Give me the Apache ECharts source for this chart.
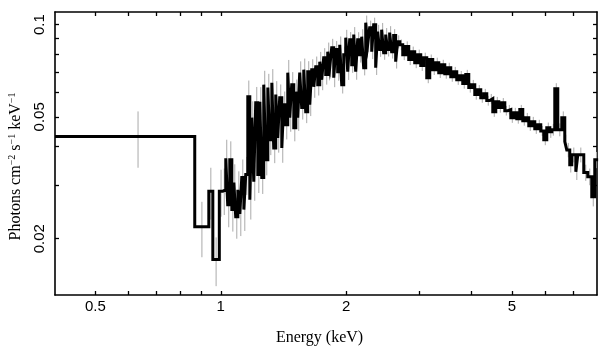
<!DOCTYPE html>
<html><head><meta charset="utf-8">
<style>html,body{margin:0;padding:0;background:#fff}#c{width:609px;height:357px}</style>
<script src="https://cdn.jsdelivr.net/npm/echarts@6/dist/echarts.min.js"></script>
</head><body><div id="c"></div>
<script>
// Bin edges (keV)
const binEdges = [0.40, 0.866, 0.936, 0.957, 0.992, 1.011, 1.028, 1.039, 1.051, 1.063, 1.075, 1.086, 1.099, 1.111, 1.123, 1.136, 1.148, 1.161, 1.174, 1.187, 1.200, 1.213, 1.227, 1.241, 1.254, 1.268, 1.282, 1.297, 1.311, 1.326, 1.340, 1.355, 1.370, 1.385, 1.401, 1.416, 1.432, 1.448, 1.464, 1.480, 1.497, 1.514, 1.530, 1.547, 1.564, 1.582, 1.599, 1.617, 1.635, 1.653, 1.672, 1.690, 1.709, 1.728, 1.747, 1.766, 1.786, 1.806, 1.826, 1.846, 1.867, 1.887, 1.908, 1.930, 1.951, 1.973, 1.995, 2.017, 2.039, 2.062, 2.085, 2.108, 2.131, 2.155, 2.179, 2.203, 2.228, 2.252, 2.277, 2.303, 2.328, 2.354, 2.380, 2.406, 2.433, 2.460, 2.488, 2.515, 2.543, 2.571, 2.600, 2.629, 2.658, 2.690, 2.734, 2.780, 2.826, 2.873, 2.921, 2.970, 3.020, 3.070, 3.122, 3.174, 3.227, 3.281, 3.336, 3.392, 3.449, 3.506, 3.565, 3.625, 3.685, 3.746, 3.809, 3.873, 3.938, 4.004, 4.071, 4.139, 4.208, 4.279, 4.350, 4.422, 4.497, 4.572, 4.649, 4.727, 4.806, 4.886, 4.968, 5.051, 5.135, 5.221, 5.308, 5.397, 5.487, 5.579, 5.672, 5.767, 5.863, 5.961, 6.061, 6.162, 6.231, 6.335, 6.441, 6.585, 6.695, 6.769, 6.882, 6.959, 7.116, 7.195, 7.436, 7.602, 7.772, 7.902, 8.05];

// Flux per bin (photons cm^-2 s^-1 keV^-1)
const flux = [
  0.0431, 0.0219, 0.0286, 0.0171, 0.0286, 0.0289,
  0.0366, 0.0258, 0.0362, 0.0249, 0.0305, 0.0236, 0.0289, 0.0241, 0.0317, 0.0249,
  0.0324, 0.0582, 0.0268, 0.0497, 0.0307, 0.0556, 0.0324, 0.0560, 0.0317, 0.0637,
  0.0362, 0.0623, 0.0421, 0.0646, 0.0396, 0.0591, 0.0427, 0.0577, 0.0396, 0.0548,
  0.0471, 0.0697, 0.0497, 0.0637, 0.0461, 0.0604, 0.0497, 0.0697, 0.0536, 0.0713,
  0.0520, 0.0702, 0.0548, 0.0713, 0.0627, 0.0729, 0.0637, 0.0757, 0.0661, 0.0780,
  0.0687, 0.0816, 0.0724, 0.0841, 0.0671, 0.0829, 0.0702, 0.0860, 0.0637, 0.0798,
  0.0907, 0.0702, 0.0893, 0.0740, 0.0928, 0.0702, 0.0893, 0.0798, 0.0914, 0.0724,
  0.1015, 0.0860, 0.0978, 0.0816, 0.1000, 0.0724, 0.0949, 0.0829, 0.0963, 0.0810,
  0.0928, 0.0829, 0.0942, 0.0816, 0.0921, 0.0757, 0.0880,
  0.0860, 0.0798, 0.0848, 0.0769, 0.0816, 0.0751, 0.0798, 0.0735, 0.0780, 0.0671,
  0.0769, 0.0713, 0.0751, 0.0697, 0.0740, 0.0692, 0.0724, 0.0676, 0.0702, 0.0661,
  0.0681, 0.0642, 0.0687, 0.0623, 0.0637, 0.0591, 0.0613, 0.0577, 0.0595, 0.0565,
  0.0573, 0.0520, 0.0560, 0.0536, 0.0556, 0.0524, 0.0528, 0.0497, 0.0516, 0.0493,
  0.0528, 0.0486, 0.0497, 0.0468, 0.0482, 0.0457, 0.0471, 0.0450, 0.0421, 0.0461,
  0.0447, 0.0454, 0.0618, 0.0454, 0.0497, 0.0415, 0.0390, 0.0349, 0.0376, 0.0331,
  0.0376, 0.0329, 0.0319, 0.0274, 0.0362
];

// 1-sigma error per bin
const fluxErr = [
  0.0090, 0.0045, 0.0055, 0.0031, 0.0050, 0.0050,
  0.0055, 0.0040, 0.0054, 0.0038, 0.0045, 0.0036, 0.0043, 0.0037, 0.0046, 0.0037,
  0.0046, 0.0075, 0.0037, 0.0065, 0.0041, 0.0070, 0.0042, 0.0065, 0.0037, 0.0070,
  0.0040, 0.0068, 0.0046, 0.0070, 0.0043, 0.0063, 0.0045, 0.0061, 0.0042, 0.0057,
  0.0049, 0.0070, 0.0050, 0.0063, 0.0045, 0.0058, 0.0047, 0.0062, 0.0046, 0.0062,
  0.0043, 0.0058, 0.0045, 0.0058, 0.0050, 0.0058, 0.0050, 0.0058, 0.0050, 0.0058,
  0.0050, 0.0058, 0.0050, 0.0058, 0.0046, 0.0055, 0.0046, 0.0055, 0.0041, 0.0050,
  0.0055, 0.0042, 0.0053, 0.0044, 0.0054, 0.0041, 0.0052, 0.0046, 0.0052, 0.0041,
  0.0056, 0.0047, 0.0053, 0.0044, 0.0054, 0.0039, 0.0050, 0.0044, 0.0050, 0.0042,
  0.0047, 0.0042, 0.0047, 0.0041, 0.0046, 0.0038, 0.0043,
  0.0035, 0.0032, 0.0034, 0.0031, 0.0032, 0.0030, 0.0031, 0.0029, 0.0030, 0.0027,
  0.0030, 0.0028, 0.0029, 0.0027, 0.0028, 0.0026, 0.0027, 0.0025, 0.0026, 0.0025,
  0.0025, 0.0024, 0.0025, 0.0023, 0.0023, 0.0022, 0.0022, 0.0021, 0.0022, 0.0021,
  0.0021, 0.0020, 0.0021, 0.0020, 0.0020, 0.0019, 0.0019, 0.0019, 0.0019, 0.0018,
  0.0019, 0.0018, 0.0018, 0.0018, 0.0018, 0.0017, 0.0018, 0.0017, 0.0017, 0.0018,
  0.0020, 0.0020, 0.0026, 0.0022, 0.0024, 0.0022, 0.0021, 0.0020, 0.0021, 0.0020,
  0.0021, 0.0020, 0.0020, 0.0019, 0.0022
];

const xTickValues = [0.5, 0.6, 0.7, 0.8, 0.9, 1, 2, 3, 4, 5, 6, 7];
const xLabelValues = [0.5, 1, 2, 5];
const yTickValues = [0.02, 0.03, 0.04, 0.05, 0.06, 0.07, 0.08, 0.09, 0.1];
const yLabelValues = [0.02, 0.05, 0.1];
const xRange = [0.4, 8];
const yRange = [0.0131, 0.11];

const stepPts = [];
for (let i = 0; i < flux.length; i++) {
  stepPts.push([binEdges[i], flux[i]]);
  stepPts.push([binEdges[i + 1], flux[i]]);
}
const errData = flux.map((f, i) => [(binEdges[i] + binEdges[i + 1]) / 2, f - fluxErr[i], f + fluxErr[i]]);

const lineStyleAxis = { color: '#000', width: 1.6 };
const tickStyle = { color: '#000', width: 1.3 };
const labelFont = { color: '#000', fontFamily: 'Liberation Sans', fontSize: 15 };

function xAx(pos, withLabels) {
  return {
    type: 'log', logBase: 10, min: xRange[0], max: xRange[1], position: pos,
    axisLine: { show: true, onZero: false, lineStyle: lineStyleAxis },
    axisTick: { show: true, inside: true, length: 4, customValues: xTickValues, lineStyle: tickStyle },
    minorTick: { show: false }, splitLine: { show: false },
    axisLabel: withLabels ? Object.assign({ show: true, customValues: xLabelValues, margin: 4, formatter: v => String(+v.toPrecision(6)) }, labelFont) : { show: false },
    name: withLabels ? 'Energy (keV)' : '',
    nameLocation: 'middle', nameGap: 35,
    nameTextStyle: { fontFamily: 'Liberation Serif', fontSize: 16, color: '#000', padding: [0, 13, 0, 0] }
  };
}
function yAx(pos, withLabels) {
  return {
    type: 'log', logBase: 10, min: yRange[0], max: yRange[1], position: pos,
    axisLine: { show: true, onZero: false, lineStyle: lineStyleAxis },
    axisTick: { show: true, inside: true, length: 4, customValues: yTickValues, lineStyle: tickStyle },
    minorTick: { show: false }, splitLine: { show: false },
    axisLabel: withLabels ? Object.assign({ show: true, customValues: yLabelValues, rotate: 90, margin: 8, formatter: v => String(+v.toPrecision(6)) }, labelFont) : { show: false },
    name: withLabels ? '{t|Photons cm}{s|−2}{t| s}{s|−1}{t| keV}{s|−1}' : '',
    nameLocation: 'middle', nameGap: 28,
    nameTextStyle: {
      padding: [0, 26, 0, 0],
      rich: {
        t: { fontFamily: 'Liberation Serif', fontSize: 16, color: '#000', lineHeight: 18 },
        s: { fontFamily: 'Liberation Serif', fontSize: 10, color: '#000', lineHeight: 10, verticalAlign: 'top' }
      }
    }
  };
}

const chart = echarts.init(document.getElementById('c'), null, { renderer: 'canvas' });
chart.setOption({
  animation: false,
  backgroundColor: '#fff',
  grid: { left: 55, right: 12, top: 12, bottom: 62, outerBoundsMode: 'none' },
  xAxis: [xAx('bottom', true), xAx('top', false)],
  yAxis: [yAx('left', true), yAx('right', false)],
  series: [
    {
      type: 'custom', xAxisIndex: 0, yAxisIndex: 0, clip: true, z: 1,
      data: errData,
      encode: { x: 0, y: [1, 2] },
      renderItem: function (params, api) {
        const x = api.value(0);
        const p1 = api.coord([x, api.value(1)]);
        const p2 = api.coord([x, api.value(2)]);
        return { type: 'line', shape: { x1: p1[0], y1: p1[1], x2: p2[0], y2: p2[1] }, style: { stroke: '#aaaaaa', lineWidth: 1 } };
      }
    },
    {
      type: 'line', xAxisIndex: 0, yAxisIndex: 0, z: 3,
      data: stepPts, showSymbol: false, symbol: 'none', clip: true,
      lineStyle: { color: '#000', width: 3, join: 'miter' }
    }
  ]
});
</script></body></html>
